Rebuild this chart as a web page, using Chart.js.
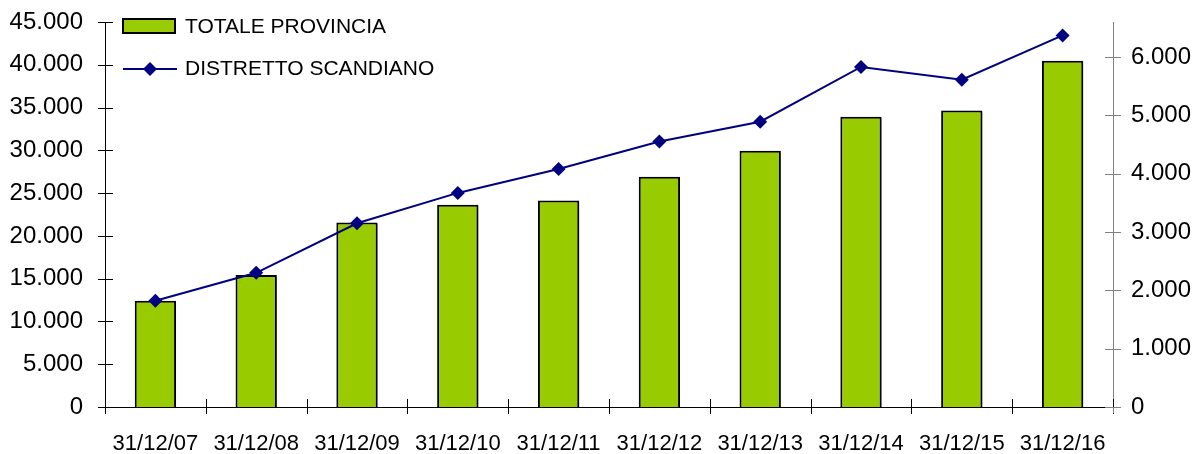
<!DOCTYPE html>
<html>
<head>
<meta charset="utf-8">
<script src="https://cdn.jsdelivr.net/npm/chart.js@4/dist/chart.umd.min.js"></script>
<style>
  html, body { margin: 0; padding: 0; background: #fff; }
  #wrap { width: 1197px; height: 454px; }
</style>
</head>
<body>
<div id="wrap"><canvas id="chart"></canvas></div>
<script>
// Dati
const dates = ['31/12/07', '31/12/08', '31/12/09', '31/12/10', '31/12/11',
               '31/12/12', '31/12/13', '31/12/14', '31/12/15', '31/12/16'];
const totaleProvincia = [12430, 15440, 21560, 23630, 24130, 26900, 29940, 33920, 34650, 40470];
const distrettoScandiano = [1820, 2300, 3150, 3670, 4080, 4550, 4890, 5830, 5610, 6370];
const leftTicks = [0, 5000, 10000, 15000, 20000, 25000, 30000, 35000, 40000, 45000];
const rightTicks = [0, 1000, 2000, 3000, 4000, 5000, 6000];

const FONT = "'Liberation Sans', Arial, sans-serif";
const fmt = v => String(v).replace(/\B(?=(\d{3})+(?!\d))/g, '.');

// ombra grigia delle colonne
const barShadow = {
  id: 'barShadow',
  beforeDatasetDraw(chart, args) {
    if (args.index !== 0) return;
    const ctx = chart.ctx;
    ctx.save();
    ctx.shadowColor = 'rgba(0,0,0,0.28)';
    ctx.shadowOffsetX = 2;
    ctx.shadowOffsetY = 2;
    ctx.shadowBlur = 0;
  },
  afterDatasetDraw(chart, args) {
    if (args.index !== 0) return;
    chart.ctx.restore();
  }
};

// tacche che attraversano gli assi
const crossTicks = {
  id: 'crossTicks',
  afterDatasetsDraw(chart) {
    const { ctx, chartArea: { left, right, bottom }, scales } = chart;
    ctx.save();
    ctx.lineWidth = 1;
    ctx.strokeStyle = '#000';
    ctx.beginPath();
    scales.y.ticks.forEach(t => {
      const y = Math.round(scales.y.getPixelForValue(t.value)) + 0.5;
      ctx.moveTo(left - 7, y); ctx.lineTo(left + 8, y);
    });
    const n = dates.length;
    for (let i = 0; i <= n; i++) {
      const x = Math.round(left + (right - left) * i / n) + 0.5;
      ctx.moveTo(x, bottom - 8); ctx.lineTo(x, bottom + 7);
    }
    ctx.stroke();
    ctx.strokeStyle = '#808080';
    ctx.beginPath();
    scales.y1.ticks.forEach(t => {
      const y = Math.round(scales.y1.getPixelForValue(t.value)) + 0.5;
      ctx.moveTo(right - 8, y); ctx.lineTo(right + 8, y);
    });
    ctx.moveTo(right + 0.5, bottom); ctx.lineTo(right + 0.5, bottom + 6);
    ctx.stroke();
    ctx.restore();
  }
};

// legenda dentro l'area del grafico
const insideLegend = {
  id: 'insideLegend',
  afterDraw(chart) {
    const ctx = chart.ctx;
    const bar = chart.data.datasets[0];
    const line = chart.data.datasets[1];
    ctx.save();
    ctx.fillStyle = bar.backgroundColor;
    ctx.fillRect(123, 19, 52, 14);
    ctx.strokeStyle = '#000';
    ctx.lineWidth = 2;
    ctx.strokeRect(123, 19, 52, 14);

    ctx.strokeStyle = line.borderColor;
    ctx.lineWidth = 2;
    ctx.beginPath();
    ctx.moveTo(123, 69); ctx.lineTo(177, 69);
    ctx.stroke();
    ctx.fillStyle = line.pointBackgroundColor;
    ctx.beginPath();
    ctx.moveTo(150, 62); ctx.lineTo(157, 69); ctx.lineTo(150, 76); ctx.lineTo(143, 69);
    ctx.closePath();
    ctx.fill();

    ctx.fillStyle = '#000';
    ctx.font = '21px ' + FONT;
    ctx.textBaseline = 'middle';
    ctx.textAlign = 'left';
    ctx.fillText(bar.label, 185, 27);
    ctx.fillText(line.label, 185, 69);
    ctx.restore();
  }
};

const noPad = s => { s.paddingTop = 0; s.paddingBottom = 0; };

new Chart(document.getElementById('chart'), {
  data: {
    labels: dates,
    datasets: [
      {
        type: 'bar',
        label: 'TOTALE PROVINCIA',
        data: totaleProvincia,
        yAxisID: 'y',
        backgroundColor: '#99cc00',
        borderColor: '#000',
        borderWidth: 2,
        barPercentage: 0.41,
        categoryPercentage: 1,
        order: 2
      },
      {
        type: 'line',
        label: 'DISTRETTO SCANDIANO',
        data: distrettoScandiano,
        yAxisID: 'y1',
        borderColor: '#000080',
        borderWidth: 2,
        pointStyle: 'rectRot',
        pointRadius: 7,
        pointBackgroundColor: '#000080',
        pointBorderColor: '#000080',
        pointBorderWidth: 0,
        tension: 0,
        order: 1
      }
    ]
  },
  options: {
    responsive: true,
    maintainAspectRatio: false,
    animation: false,
    layout: { padding: { top: 22, left: 0, right: 0, bottom: 0 } },
    plugins: {
      legend: { display: false },
      tooltip: { enabled: false }
    },
    scales: {
      x: {
        offset: true,
        grid: { display: false },
        border: { display: true, color: '#000', width: 1 },
        ticks: { color: '#000', font: { family: FONT, size: 22 }, padding: 16, maxRotation: 0, autoSkip: false },
        afterFit: s => { s.height = 47; s.paddingLeft = 0; s.paddingRight = 0; }
      },
      y: {
        position: 'left',
        min: 0, max: 45000,
        grid: { display: false },
        border: { display: true, color: '#000', width: 1 },
        ticks: { color: '#000', font: { family: FONT, size: 24 }, padding: 14, callback: fmt },
        afterBuildTicks: s => { s.ticks = leftTicks.map(value => ({ value })); },
        afterFit: s => { s.width = 105; noPad(s); }
      },
      y1: {
        position: 'right',
        min: 0, max: 6600,
        grid: { display: false },
        border: { display: true, color: '#808080', width: 1 },
        ticks: { color: '#000', font: { family: FONT, size: 24 }, padding: 10, callback: fmt },
        afterBuildTicks: s => { s.ticks = rightTicks.map(value => ({ value })); },
        afterFit: s => { s.width = 84; noPad(s); }
      }
    }
  },
  plugins: [barShadow, crossTicks, insideLegend]
});
</script>
</body>
</html>
